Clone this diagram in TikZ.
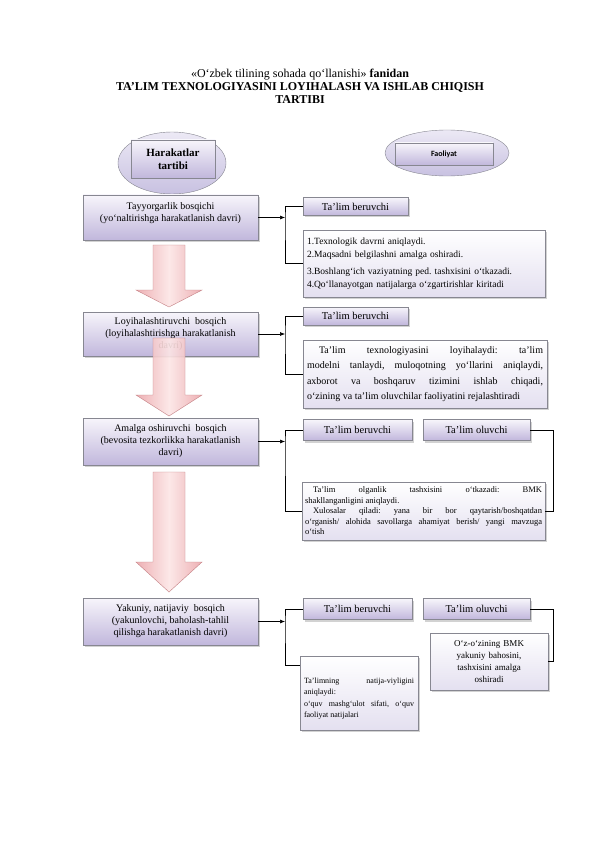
\documentclass[tikz,border=0pt]{standalone}
\usepackage{fontspec}
\setmainfont{Liberation Serif}
\newfontfamily\carlito{Carlito}
\usetikzlibrary{shapes.geometric,shadows,arrows.meta}
\frenchspacing

\definecolor{lavtop}{RGB}{247,245,251}
\definecolor{lavbot}{RGB}{193,183,220}
\definecolor{notebot}{RGB}{228,224,240}
\definecolor{boxline}{RGB}{135,135,145}
\definecolor{elltop}{RGB}{236,233,245}
\definecolor{ellbot}{RGB}{200,193,225}
\definecolor{pinkedge}{RGB}{236,168,172}
\definecolor{pinkmid}{RGB}{252,230,230}
\definecolor{pinkline}{RGB}{196,128,132}

\newcommand{\fsz}[2]{\fontsize{#1}{#2}\selectfont}

\begin{document}
\begin{tikzpicture}[x=1pt,y=-1pt]
\tikzstyle{every node}=[inner sep=3pt];
\tikzstyle{boxshadow}=[drop shadow={shadow xshift=1.5pt,shadow yshift=-2pt,fill=black!35,opacity=0.5}];
\tikzstyle{stagebox}=[draw=boxline,top color=lavtop,bottom color=lavbot,boxshadow,minimum width=175pt,align=center,font=\fsz{10}{12}];
\tikzstyle{rolebox}=[draw=boxline,top color=lavtop,bottom color=lavbot,boxshadow,minimum width=105pt,minimum height=18pt,font=\fsz{10.5}{12}];
\tikzstyle{notebox}=[draw=boxline,top color=white,bottom color=notebot,boxshadow,inner xsep=4pt];
\tikzstyle{headell}=[draw=boxline,ellipse,top color=elltop,bottom color=ellbot,inner sep=0pt];
\tikzstyle{headrect}=[draw=boxline,top color=lavtop,bottom color=lavbot,inner sep=0pt,align=center];
\tikzstyle{pinkarrow}=[draw=pinkline,left color=pinkedge,right color=pinkedge,middle color=pinkmid,fill opacity=0.9];
\tikzstyle{link}=[line width=0.6pt];
\tikzstyle{tip}=[-{Latex[length=5pt,width=4pt]}];

\useasboundingbox (0,0) rectangle (596,842);
\fill[white] (0,0) rectangle (596,842);

% title
\node[align=center,font=\fsz{12}{13}] (title) at (300,86) {«O‘zbek tilining sohada qo‘llanishi» \textbf{fanidan}\\
  \textbf{TA’LIM TEXNOLOGIYASINI LOYIHALASH VA ISHLAB CHIQISH}\\ \textbf{TARTIBI}};

% column heads
\node[headell,minimum width=108pt,minimum height=62pt] (hell) at (172,163) {};
\node[headrect,minimum width=84pt,minimum height=38pt,font=\bfseries\fsz{11}{13.5}] (hrect) at (173,159) {Harakatlar\\tartibi};
\node[headell,minimum width=124pt,minimum height=46pt] (fell) at (447,153) {};
\node[headrect,minimum width=98pt,minimum height=22pt,font=\carlito\bfseries\fsz{8}{10}] (frect) at (444,154) {Faoliyat};

% stages
\node[stagebox,minimum height=45pt,text depth=10pt] (tay) at (170.5,217.5) {Tayyorgarlik bosqichi\\(yo‘naltirishga harakatlanish davri)};
\node[stagebox,minimum height=44pt] (loy) at (170.5,334) {Loyihalashtiruvchi\ \ bosqich\\(loyihalashtirishga harakatlanish\\davri)};
\node[stagebox,minimum height=47pt] (amal) at (170.5,441.5) {Amalga oshiruvchi\ \ bosqich\\(bevosita tezkorlikka harakatlanish\\davri)};
\node[stagebox,minimum height=47pt] (yak) at (170.5,621.5) {Yakuniy, natijaviy\ \ bosqich\\(yakunlovchi, baholash-tahlil\\qilishga harakatlanish davri)};

% big arrows between stages
\foreach \ya/\yb/\yc in {245/290/307,338/395/416,472/562/592}
  \draw[pinkarrow] (153,\ya) -- (185,\ya) -- (185,\yb) -- (202,\yb) -- (169,\yc) -- (136,\yb) -- (153,\yb) -- cycle;

% stage 1
\node[rolebox] (ben1) at (355.5,206.5) {Ta’lim beruvchi};
\node[notebox,text width=234pt,minimum height=67pt,align=left,font=\fsz{9.5}{12.5}] (tx1) at (424,263.5) {1.Texnologik davrni aniqlaydi.\\2.Maqsadni belgilashni amalga oshiradi.\\[5pt]3.Boshlang‘ich vaziyatning ped. tashxisini o‘tkazadi.\\4.Qo‘llanayotgan natijalarga o‘zgartirishlar kiritadi};

% stage 2
\node[rolebox] (ben2) at (355.5,316) {Ta’lim beruvchi};
\node[notebox,text width=236pt,minimum height=68pt,align=justify,font=\fsz{10}{15.3}] (tx2) at (425,374) {\hspace*{1.2em}Ta’lim texnologiyasini loyihalaydi: ta’lim\linebreak modelni tanlaydi, muloqotning yo‘llarini aniqlaydi,\linebreak axborot va boshqaruv tizimini ishlab chiqadi,\linebreak o‘zining va ta’lim oluvchilar faoliyatini rejalashtiradi};

% stage 3
\node[rolebox,minimum width=109pt,minimum height=21pt] (ben3) at (357.5,430) {Ta’lim beruvchi};
\node[rolebox,minimum width=107pt,minimum height=21pt] (olu3) at (476.5,430) {Ta’lim oluvchi};
\node[notebox,inner xsep=3pt,text width=237pt,minimum height=58pt,align=justify,font=\fsz{8.5}{10.5}] (tx3) at (423.5,511) {\hspace*{8pt}Ta’lim olganlik tashxisini o‘tkazadi: BMK\linebreak shakllanganligini aniqlaydi.\par\hspace*{8pt}Xulosalar qiladi: yana bir bor qaytarish/boshqatdan\linebreak o‘rganish/ alohida savollarga ahamiyat berish/ yangi mavzuga\linebreak o‘tish};

% stage 4
\node[rolebox,minimum width=109pt,minimum height=21pt] (ben4) at (357.5,609) {Ta’lim beruvchi};
\node[rolebox,minimum width=107pt,minimum height=21pt] (olu4) at (476.5,609) {Ta’lim oluvchi};
\node[notebox,text width=110pt,minimum height=74pt,text depth=25pt,align=justify,font=\fsz{8}{11.5}] (tx4) at (359,693) {Ta’limning natija-viyligini\linebreak aniqlaydi:\par o‘quv mashg‘ulot sifati, o‘quv\linebreak faoliyat natijalari};
\node[notebox,text width=110pt,minimum height=57pt,align=center,font=\fsz{9}{12}] (tx5) at (489,661.5) {O‘z-o‘zining BMK\\yakuniy bahosini,\\tashxisini amalga\\oshiradi};

% brackets
\coordinate (brk1) at (285,217.5);
\coordinate (brk2) at (285,334);
\coordinate (brk3) at (285,441.5);
\coordinate (brk4) at (285,621.5);
\coordinate (rbrk3) at (553,430);
\coordinate (rbrk4) at (553,609);

\draw[link,tip] (tay.east) -- (brk1);
\draw[link] (ben1.west) -| (brk1) |- (tx1.west);
\draw[link,tip] (loy.east) -- (brk2);
\draw[link] (ben2.west) -| (brk2) |- (tx2.west);
\draw[link,tip] (amal.east) -- (brk3);
\draw[link] (ben3.west) -| (brk3) |- (tx3.west);
\draw[link] (olu3.east) -- (rbrk3) |- (tx3.east);
\draw[link,tip] (yak.east) -- (brk4);
\draw[link] (ben4.west) -| (brk4) |- ([yshift=-9pt]tx4.north west);
\draw[link] (olu4.east) -- (rbrk4) |- (tx5.east);
\end{tikzpicture}
\end{document}
